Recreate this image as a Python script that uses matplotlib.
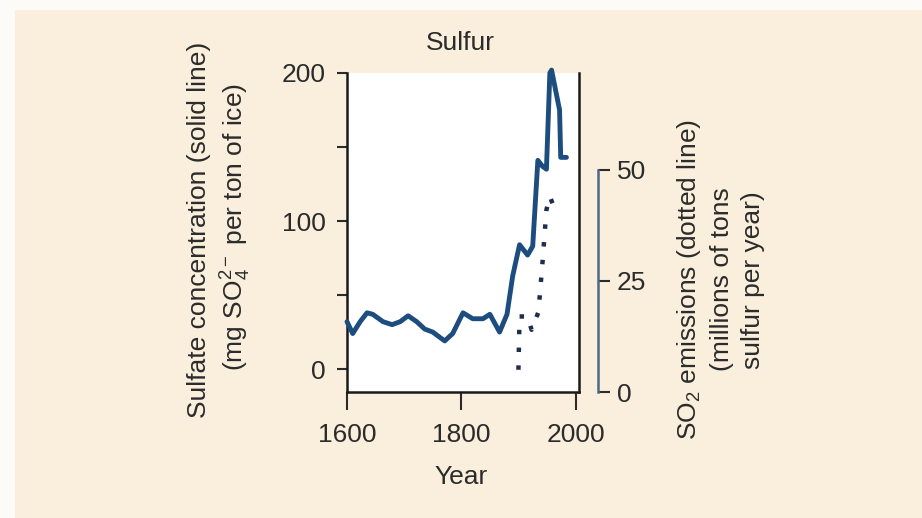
import matplotlib.pyplot as plt
from matplotlib.patches import Rectangle

# sulfate concentration (mg SO4 per ton of ice)
years_sulfate = [1600, 1610, 1623, 1635, 1645, 1663, 1679, 1693, 1707, 1722,
                 1736, 1750, 1771, 1785, 1803, 1820, 1838, 1850, 1867, 1880,
                 1890, 1902, 1916, 1925, 1934, 1942, 1949, 1955, 1958, 1972,
                 1974, 1984]
sulfate = [32, 24, 32, 38, 37, 32, 30, 32, 36, 32,
           27, 25, 19, 24, 38, 34, 34, 37, 25, 37,
           63, 84, 77, 83, 141, 137, 135, 200, 202, 175,
           143, 143]

# SO2 emissions (millions of tons sulfur per year)
years_so2 = [1900, 1902, 1916, 1923, 1935, 1942, 1949, 1955, 1967]
so2 = [5, 17, 17, 14, 18, 29, 41, 44, 40]

year_ticks = [1600, 1800, 2000]
left_ticks = [0, 50, 100, 150, 200]
left_labels = ['0', '', '100', '', '200']
right_ticks = [0, 25, 50]

W, H = 922, 518
BG = '#f9efdc'
INK = '#2b2b2b'
SOLID = '#1d4d7e'
DOTS = '#1f2d4c'

plt.rcParams['font.family'] = ['Liberation Sans', 'DejaVu Sans']
plt.rcParams['mathtext.fontset'] = 'custom'
plt.rcParams['mathtext.rm'] = 'Liberation Sans'
plt.rcParams['mathtext.it'] = 'Liberation Sans:italic'
plt.rcParams['font.size'] = 19


def fx(x):
    return x / W


def fy(y):
    return 1 - y / H


fig = plt.figure(figsize=(W / 100, H / 100), dpi=100, facecolor='#fdfbf7')
fig.patches.append(Rectangle((fx(15), 0), 1, fy(10), transform=fig.transFigure,
                             facecolor=BG, edgecolor='none', zorder=-5))

ax = fig.add_axes([fx(347), fy(392), 232 / W, 319 / H])
ax.set_facecolor('white')
ax.plot(years_sulfate, sulfate, color=SOLID, linewidth=3.5, clip_on=False,
        solid_joinstyle='round', solid_capstyle='round', zorder=3)
ax.set_xlim(1600, 2006)
ax.set_ylim(-15.5, 200)
ax.set_xticks(year_ticks)
ax.set_yticks(left_ticks)
ax.set_yticklabels(left_labels)
ax.spines['top'].set_visible(False)
for side in ('left', 'bottom', 'right'):
    ax.spines[side].set_linewidth(1.8)
    ax.spines[side].set_color('#1a1a1a')
ax.tick_params(axis='y', length=7.5, width=1.5, pad=8, colors=INK)
ax.tick_params(axis='x', length=13, width=1.5, pad=9, colors=INK)

ax2 = ax.twinx()
ax2.plot(years_so2, so2, color=DOTS, linewidth=3.2, linestyle=(0, (1, 3)),
         zorder=3)
ax2.set_ylim(0, 71.8)
ax2.set_yticks(right_ticks)
for side in ('left', 'top', 'bottom'):
    ax2.spines[side].set_visible(False)
ax2.spines['right'].set_position(('outward', 13.7))
ax2.spines['right'].set_bounds(0, 50)
ax2.spines['right'].set_color('#4d6886')
ax2.spines['right'].set_linewidth(1.8)
ax2.tick_params(axis='y', length=8.5, width=1.5, pad=5, colors=INK)

fig.text(fx(460), fy(43), 'Sulfur', ha='center', va='center', color=INK)
fig.text(fx(461), fy(477), 'Year', ha='center', va='center', color=INK)

fig.text(fx(199), fy(230), 'Sulfate concentration (solid line)', rotation=90,
         ha='center', va='center', color=INK)
fig.text(fx(236), fy(227), '(mg SO$_4^{2-}$ per ton of ice)', rotation=90,
         ha='center', va='center', color=INK)

fig.text(fx(689), fy(280), 'SO$_2$ emissions (dotted line)', rotation=90,
         ha='center', va='center', color=INK)
fig.text(fx(722), fy(279), '(millions of tons', rotation=90,
         ha='center', va='center', color=INK)
fig.text(fx(753), fy(280), 'sulfur per year)', rotation=90,
         ha='center', va='center', color=INK)

fig.savefig('out.png', dpi=100, facecolor=fig.get_facecolor())
